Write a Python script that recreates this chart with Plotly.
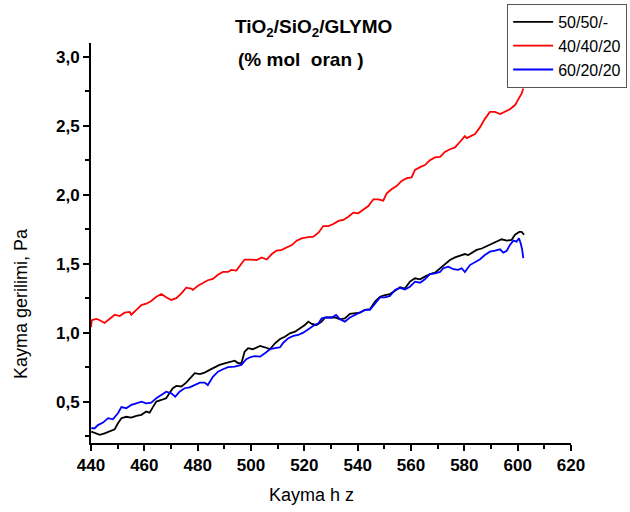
import plotly.graph_objects as go

# ---- data ----
red_x = [440.0, 440.3, 442, 443.3, 445.1, 447, 448.9, 450.8, 452.6, 454.5, 455.1, 457, 458.9, 460.7, 462.6,
         464.5, 466.4, 468.2, 470.1, 472, 473.9, 475.7, 477.6, 478.2, 480.1, 482, 483.8, 485.7, 487.6,
         489.5, 491.4, 492.6, 494.5, 496.4, 497.6, 499.6, 502.1, 504, 505.9, 507.8, 509.6, 511.5, 513.4,
         515.3, 517.1, 519, 520.9, 523.4, 525.3, 527.1, 529, 530.9, 532.8, 534.6, 536.5, 538.4, 540.2,
         542.1, 544, 545.9, 547.7, 549.6, 550.9, 552.7, 554.6, 556.5, 558.4, 560.2, 561.5, 563.4, 565.2,
         567.1, 569, 570.9, 572.7, 574.6, 576.5, 578.4, 580.2, 580.9, 582.1, 584, 585.9, 587.7, 589.6,
         591.5, 593.4, 595.2, 597.1, 599, 600.2, 601.5, 602.1]
red_y = [1.04, 1.09, 1.10, 1.09, 1.07, 1.10, 1.13, 1.12, 1.145, 1.15, 1.13, 1.165, 1.20, 1.21, 1.23,
         1.26, 1.28, 1.256, 1.237, 1.25, 1.285, 1.326, 1.32, 1.31, 1.34, 1.36, 1.38, 1.39, 1.42,
         1.44, 1.44, 1.455, 1.45, 1.50, 1.53, 1.53, 1.527, 1.545, 1.53, 1.57, 1.595, 1.60, 1.62,
         1.635, 1.667, 1.684, 1.69, 1.696, 1.725, 1.773, 1.773, 1.788, 1.81, 1.817, 1.84, 1.87, 1.865,
         1.89, 1.918, 1.967, 1.967, 1.957, 2.01, 2.04, 2.063, 2.10, 2.12, 2.126, 2.18, 2.20, 2.215,
         2.25, 2.27, 2.275, 2.31, 2.33, 2.343, 2.384, 2.425, 2.41, 2.42, 2.44, 2.49, 2.55, 2.60,
         2.60, 2.585, 2.60, 2.62, 2.65, 2.686, 2.735, 2.77]

black_x = [440.1, 441.4, 443.3, 445.1, 447, 448.9, 450.1, 451.4, 453.2, 455.1, 457, 458.9, 460.7, 462,
           463.2, 464.5, 466.4, 468.2, 469.5, 470.7, 472, 473.9, 475.7, 477.6, 478.9, 480.8, 482.6, 484.5,
           486.4, 488.2, 490.1, 492, 493.9, 495.1, 496.4, 497.6, 498.9, 500.7, 502, 503.4, 505.2, 507.1,
           509, 510.9, 512.7, 514.6, 516.5, 518.4, 520.2, 521.5, 522.8, 524.6, 526.5, 527.8, 529.6, 531.5,
           533.4, 535.2, 537.1, 539, 540.9, 542.7, 544.6, 546.5, 548.4, 550.2, 552.1, 554, 555.9, 557.7,
           559.6, 561.5, 563.4, 565.2, 567.1, 569, 570.9, 572.7, 574.6, 576.5, 578.4, 580.2, 581.5, 582.8,
           584.6, 586.5, 588.4, 590.3, 592.1, 594, 595.9, 597.7, 599, 600.6, 601.5, 602.4]
black_y = [0.283, 0.275, 0.259, 0.27, 0.283, 0.30, 0.343, 0.38, 0.39, 0.384, 0.396, 0.404, 0.428, 0.42,
           0.46, 0.50, 0.512, 0.525, 0.565, 0.597, 0.614, 0.61, 0.638, 0.68, 0.706, 0.70, 0.71, 0.73,
           0.75, 0.766, 0.778, 0.79, 0.797, 0.78, 0.778, 0.862, 0.887, 0.88, 0.894, 0.904, 0.894, 0.88,
           0.923, 0.954, 0.97, 0.995, 1.007, 1.03, 1.056, 1.08, 1.063, 1.056, 1.08, 1.11, 1.11, 1.11,
           1.097, 1.104, 1.136, 1.14, 1.145, 1.165, 1.17, 1.225, 1.26, 1.273, 1.28, 1.304, 1.33, 1.32,
           1.37, 1.394, 1.387, 1.406, 1.425, 1.435, 1.467, 1.50, 1.527, 1.546, 1.556, 1.57, 1.563, 1.58,
           1.60, 1.61, 1.628, 1.643, 1.66, 1.677, 1.667, 1.672, 1.71, 1.73, 1.73, 1.71]

blue_x = [440.1, 441.4, 442.6, 444.5, 446.4, 448.2, 450.1, 451.4, 453.2, 455.1, 457, 458.9, 460.7, 462.6,
          464.5, 466.4, 468.2, 470.1, 471.6, 473.2, 475.1, 477, 478.9, 480.8, 482.6, 483.8, 485.7, 487.6,
          489.5, 491.4, 493.9, 496.4, 498.2, 500.1, 501.5, 503.4, 505.2, 507.1, 509, 510.9, 512.1, 514,
          515.9, 517.7, 519.6, 521.5, 523.4, 525.3, 526.5, 528.4, 530.3, 531.9, 533.4, 535.2, 537.1, 539,
          540.9, 542.7, 544.6, 546.5, 548.4, 550.2, 552.1, 554, 555.9, 557.7, 559.6, 561.5, 563.4, 565.2,
          567.1, 569, 570.9, 572.1, 574, 575.9, 577.7, 579, 580.2, 582.1, 584, 585.9, 587.7, 589.6,
          591.5, 593.4, 594.6, 595.9, 597.1, 598.4, 599.6, 600.5, 601.2, 601.7, 602.1]
blue_y = [0.307, 0.307, 0.33, 0.348, 0.38, 0.372, 0.416, 0.46, 0.452, 0.476, 0.488, 0.50, 0.488, 0.493,
          0.525, 0.549, 0.572, 0.56, 0.536, 0.572, 0.597, 0.604, 0.62, 0.638, 0.638, 0.62, 0.68, 0.717,
          0.735, 0.75, 0.754, 0.766, 0.807, 0.825, 0.83, 0.826, 0.85, 0.88, 0.887, 0.894, 0.927, 0.96,
          0.976, 0.983, 1.0, 1.025, 1.05, 1.068, 1.104, 1.11, 1.11, 1.128, 1.097, 1.08, 1.11, 1.128,
          1.145, 1.165, 1.165, 1.213, 1.256, 1.256, 1.266, 1.31, 1.325, 1.312, 1.333, 1.37, 1.362, 1.387,
          1.425, 1.43, 1.44, 1.467, 1.478, 1.46, 1.455, 1.467, 1.44, 1.49, 1.514, 1.532, 1.563, 1.587,
          1.594, 1.604, 1.58, 1.594, 1.636, 1.667, 1.66, 1.684, 1.643, 1.60, 1.54]

series_names = ["50/50/-", "40/40/20", "60/20/20"]
x_ticks = [440, 460, 480, 500, 520, 540, 560, 580, 600, 620]
y_ticks = [0.5, 1.0, 1.5, 2.0, 2.5, 3.0]

fig = go.Figure()
fig.add_trace(go.Scatter(x=black_x, y=black_y, mode="lines", name=series_names[0],
                         line=dict(color="#000000", width=1.8)))
fig.add_trace(go.Scatter(x=red_x, y=red_y, mode="lines", name=series_names[1],
                         line=dict(color="#FF0000", width=1.8)))
fig.add_trace(go.Scatter(x=blue_x, y=blue_y, mode="lines", name=series_names[2],
                         line=dict(color="#0000FF", width=1.8)))

tickfont = dict(family="Arial, Liberation Sans, sans-serif", size=17, color="black", weight="bold")

fig.update_layout(
    width=630, height=512,
    paper_bgcolor="white", plot_bgcolor="white",
    separators=",.",
    margin=dict(l=91, r=59, t=43, b=69, autoexpand=False),
    font=dict(family="Arial, Liberation Sans, sans-serif", color="black"),
    showlegend=True,
    legend=dict(x=0.867, y=1.0975, xanchor="left", yanchor="top",
                bordercolor="#555555", borderwidth=1, bgcolor="white",
                font=dict(size=16, family="Arial, Liberation Sans, sans-serif"),
                tracegroupgap=0, itemwidth=40),
    xaxis=dict(range=[440, 620], tickvals=x_ticks, ticktext=[str(v) for v in x_ticks],
               showgrid=False, zeroline=False, showline=True, linecolor="black", linewidth=2,
               ticks="outside", ticklen=6, tickwidth=2, tickcolor="black",
               minor=dict(dtick=10, ticks="outside", ticklen=4, tickwidth=2, tickcolor="black", showgrid=False),
               tickfont=tickfont),
    yaxis=dict(range=[0.2, 3.1], tickvals=y_ticks, tickformat=".1f",
               showgrid=False, zeroline=False, showline=True, linecolor="black", linewidth=2,
               ticks="outside", ticklen=6, tickwidth=2, tickcolor="black",
               minor=dict(tickvals=[0.25, 0.75, 1.25, 1.75, 2.25, 2.75], ticks="outside", ticklen=4,
                          tickwidth=2, tickcolor="black", showgrid=False),
               tickfont=tickfont),
    annotations=[
        dict(text="<b>TiO<sub>2</sub>/SiO<sub>2</sub>/GLYMO</b>", x=313, y=28, showarrow=False,
             font=dict(size=19)),
        dict(text="<b>(% mol&nbsp; oran )</b>", x=301, y=59, showarrow=False, font=dict(size=19)),
        dict(text="Kayma h z", x=311, y=495, showarrow=False, font=dict(size=18)),
        dict(text="Kayma gerilimi, Pa", x=21, y=304, showarrow=False, font=dict(size=18), textangle=-90),
    ],
)

# convert pixel positions of text annotations into paper coordinates
for ann in fig.layout.annotations:
    px, py = ann.x, ann.y
    ann.xref = "paper"
    ann.yref = "paper"
    ann.x = (px - 91) / 480
    ann.y = (443 - py) / 400
    ann.xanchor = "center"
    ann.yanchor = "middle"

fig.write_html("out.html", config={"displayModeBar": False},
               post_script="document.body.style.margin='0px';")
